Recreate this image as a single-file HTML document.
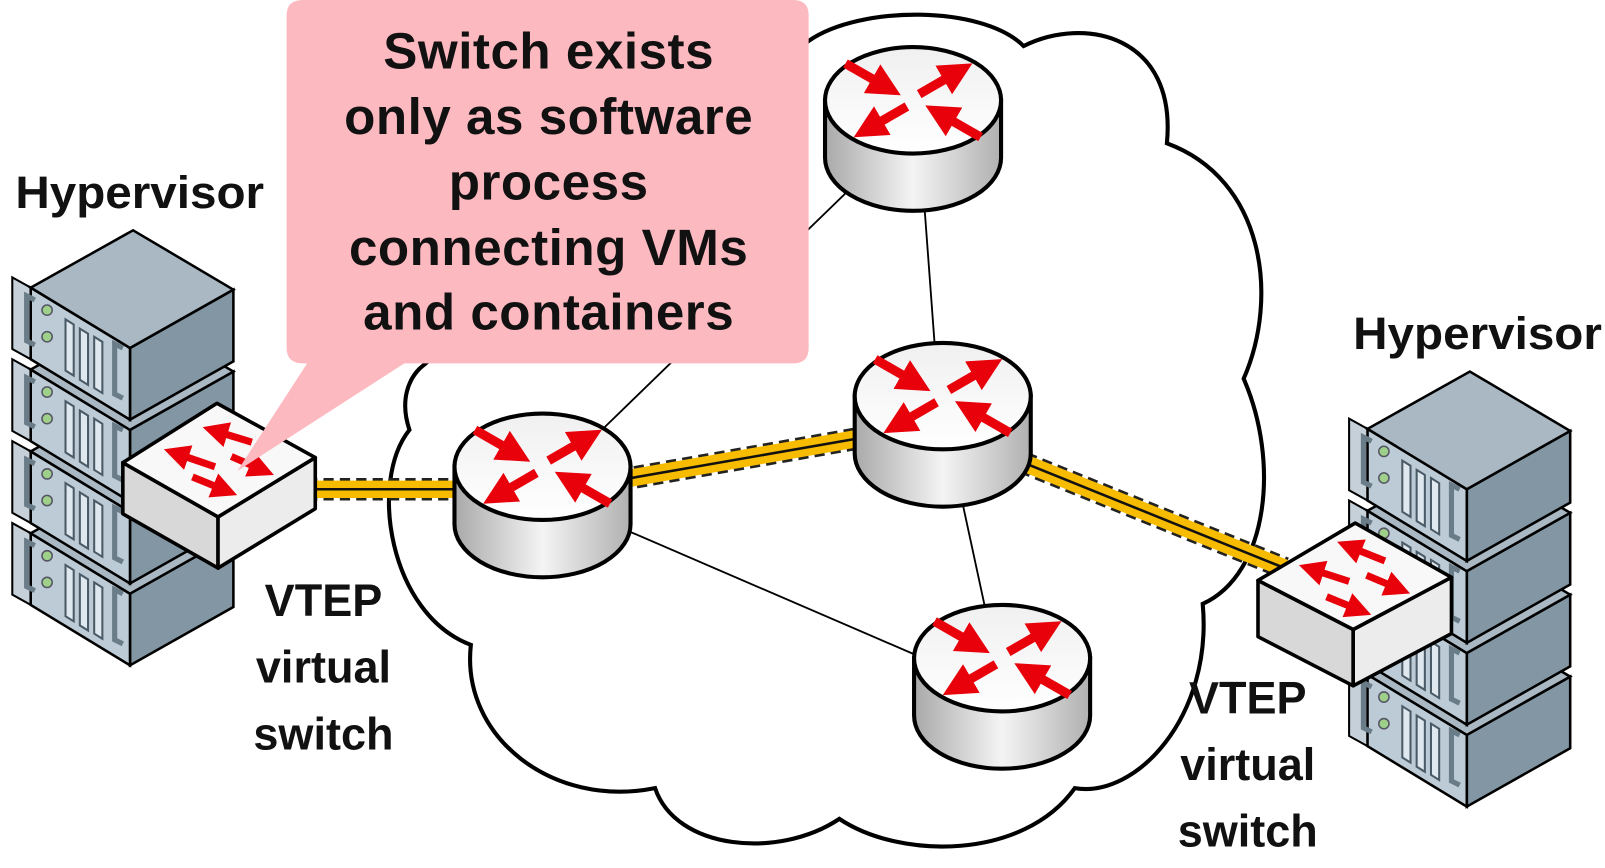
<!DOCTYPE html>
<html><head><meta charset="utf-8"><style>
html,body{margin:0;padding:0;background:#fff;}
svg{display:block;}
text{font-family:"Liberation Sans",sans-serif;font-weight:bold;fill:#111;}
</style></head><body>
<svg width="1605" height="868" viewBox="0 0 1568 848" xmlns="http://www.w3.org/2000/svg">
<defs>
<linearGradient id="body" x1="0" x2="1" y1="0" y2="0">
<stop offset="0" stop-color="#a9a9a9"/><stop offset="0.5" stop-color="#f4f4f4"/><stop offset="1" stop-color="#b0b0b0"/>
</linearGradient>
<linearGradient id="topg" x1="0" x2="0" y1="0" y2="1">
<stop offset="0" stop-color="#f0f0f0"/><stop offset="1" stop-color="#ffffff"/>
</linearGradient>
<marker id="ah" viewBox="0 0 10 10" refX="5" refY="5" markerWidth="3.6" markerHeight="3.6" orient="auto">
<path d="M0,0 L10,5 L0,10 Z" fill="#e8000b"/>
</marker>
<g id="router">
<path d="M-86,0 L-86,56 A86 52 0 0 0 86,56 L86,0 Z" fill="url(#body)" stroke="#000" stroke-width="4"/>
<ellipse cx="0" cy="0" rx="86" ry="52" fill="url(#topg)" stroke="#000" stroke-width="4"/>
<g stroke="#e8000b" stroke-width="9" marker-end="url(#ah)" fill="none">
<line x1="-66" y1="-36" x2="-26" y2="-13"/>
<line x1="6" y1="-6" x2="44" y2="-28"/>
<line x1="-6" y1="6" x2="-44" y2="28"/>
<line x1="66" y1="36" x2="26" y2="13"/>
</g>
</g>
<g id="unit">
<polygon points="-118,46 -100,56 -100,126 -118,116" fill="#c5d0d8" stroke="#000" stroke-width="2"/>
<polygon points="-3,115 98,58 98,128 -3,185" fill="#8296a4" stroke="#000" stroke-width="2.5"/>
<polygon points="-100,56 -3,115 -3,185 -100,126" fill="#bccbd5" stroke="#000" stroke-width="2.5"/>
<polygon points="0,0 98,58 -3,115 -100,56" fill="#a9b8c3" stroke="#000" stroke-width="2.5"/>
<circle cx="-84" cy="78" r="5" fill="#9fd08a" stroke="#556" stroke-width="1.5"/>
<circle cx="-84" cy="104" r="5" fill="#9fd08a" stroke="#556" stroke-width="1.5"/>
<g fill="#dfe8ee" stroke="#4a5a66" stroke-width="2">
<polygon points="-66,87 -58,92 -58,142 -66,137"/>
<polygon points="-52,96 -44,101 -44,151 -52,146"/>
<polygon points="-38,104 -30,109 -30,159 -38,154"/>
</g>
<path d="M-96,68 L-104,64 L-104,108 L-96,112" fill="none" stroke="#6a7c88" stroke-width="5"/>
<path d="M-10,115 L-18,111 L-18,160 L-10,164" fill="none" stroke="#6a7c88" stroke-width="5"/>
</g>
</defs>

<path d="M790,40 C840,5 960,5 1000,45 C1060,15 1150,35 1140,140 C1235,175 1250,290 1215,370 C1250,450 1240,560 1175,590 C1185,700 1110,780 1050,770 C1000,840 880,840 820,800 C760,840 660,830 640,770 C540,790 450,720 460,630 C380,600 360,470 400,420 C390,390 400,370 410,360 L790,40 Z" fill="#fff" stroke="#000" stroke-width="4"/>

<g stroke="#000" stroke-width="1.8">
<line x1="590" y1="418" x2="830" y2="185"/>
<line x1="903" y1="200" x2="913" y2="335"/>
<line x1="612" y1="518" x2="895" y2="640"/>
<line x1="940" y1="490" x2="962" y2="592"/>
</g>

<g transform="translate(130,465)"><use href="#unit"/></g>
<g transform="translate(130,385)"><use href="#unit"/></g>
<g transform="translate(130,305)"><use href="#unit"/></g>
<g transform="translate(130,225)"><use href="#unit"/></g>

<g transform="translate(1436,603)"><use href="#unit"/></g>
<g transform="translate(1436,523)"><use href="#unit"/></g>
<g transform="translate(1436,443)"><use href="#unit"/></g>
<g transform="translate(1436,363)"><use href="#unit"/></g>

<g fill="none">
<g stroke="#222" stroke-width="22" stroke-dasharray="10,6">
<line x1="300" y1="478" x2="450" y2="478"/>
<line x1="605" y1="469" x2="840" y2="428"/>
<line x1="1000" y1="452" x2="1255" y2="555"/>
</g>
<g stroke="#f7bb00" stroke-width="17">
<line x1="300" y1="478" x2="450" y2="478"/>
<line x1="605" y1="469" x2="840" y2="428"/>
<line x1="1000" y1="452" x2="1255" y2="555"/>
</g>
<g stroke="#111" stroke-width="2.5">
<line x1="300" y1="478" x2="450" y2="478"/>
<line x1="605" y1="469" x2="840" y2="428"/>
<line x1="1000" y1="452" x2="1255" y2="555"/>
</g>
</g>

<use href="#router" x="892" y="98"/>
<use href="#router" x="921" y="387"/>
<use href="#router" x="530" y="456"/>
<use href="#router" x="979" y="643"/>

<g stroke="#000" stroke-width="3.5" stroke-linejoin="round">
<polygon points="120,452 213,505 213,555 120,502" fill="#d8d8d8"/>
<polygon points="213,505 308,447 308,497 213,555" fill="#ececec"/>
<polygon points="120,452 212,394 308,447 213,505" fill="#f8f8f8"/>
</g>
<g stroke="#e8000b" stroke-width="7" marker-end="url(#ah)">
<line x1="246" y1="432" x2="210" y2="421"/>
<line x1="210" y1="456" x2="172" y2="443"/>
<line x1="226" y1="446" x2="256" y2="459"/>
<line x1="188" y1="466" x2="220" y2="479"/>
</g>

<g stroke="#000" stroke-width="3.5" stroke-linejoin="round">
<polygon points="1229,567 1322,615 1322,670 1229,622" fill="#d8d8d8"/>
<polygon points="1322,615 1418,564 1418,619 1322,670" fill="#ececec"/>
<polygon points="1229,567 1324,511 1418,564 1322,615" fill="#f8f8f8"/>
</g>
<g stroke="#e8000b" stroke-width="7" marker-end="url(#ah)">
<line x1="1353" y1="548" x2="1318" y2="534"/>
<line x1="1318" y1="568" x2="1281" y2="556"/>
<line x1="1335" y1="562" x2="1366" y2="575"/>
<line x1="1296" y1="583" x2="1328" y2="596"/>
</g>

<path d="M296,0 L775,0 Q790,0 790,15 L790,340 Q790,355 775,355 L395,355 L232,460 L300,355 L296,355 Q280,355 280,340 L280,15 Q280,0 296,0 Z" fill="#fdb9c0"/>
<g font-size="50" text-anchor="middle" letter-spacing="0.5">
<text x="536" y="67">Switch exists</text>
<text x="536" y="131">only as software</text>
<text x="536" y="195">process</text>
<text x="536" y="259">connecting VMs</text>
<text x="536" y="322">and containers</text>
</g>

<text x="15" y="203" font-size="44" textLength="243" lengthAdjust="spacingAndGlyphs">Hypervisor</text>
<text x="1322" y="341" font-size="44" textLength="243" lengthAdjust="spacingAndGlyphs">Hypervisor</text>
<g font-size="44" text-anchor="middle">
<text x="316" y="602">VTEP</text>
<text x="316" y="667">virtual</text>
<text x="316" y="732">switch</text>
<text x="1219" y="697">VTEP</text>
<text x="1219" y="762">virtual</text>
<text x="1219" y="827">switch</text>
</g>
</svg>
</body></html>
